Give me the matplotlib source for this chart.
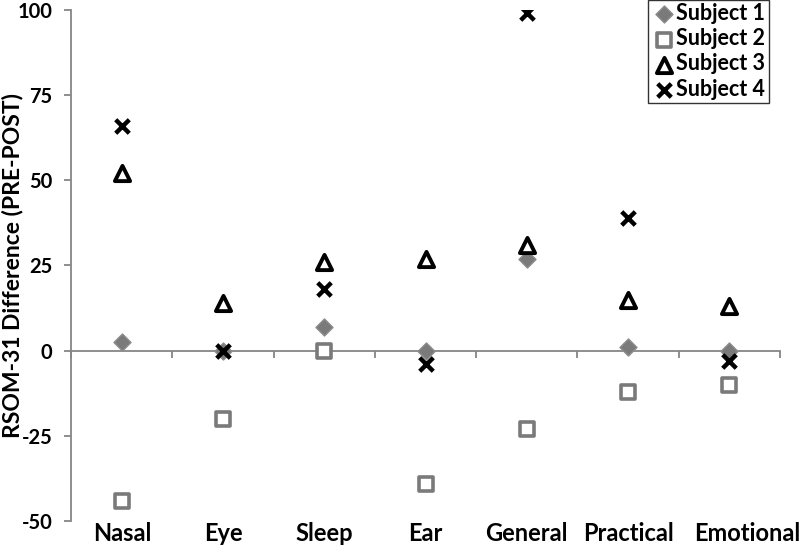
import numpy as np
import matplotlib
matplotlib.use("Agg")
import matplotlib.pyplot as plt
import matplotlib.transforms as mtransforms

plt.rcParams['font.family'] = ['Lato', 'DejaVu Sans']

# Data
categories = ['Nasal', 'Eye', 'Sleep', 'Ear', 'General', 'Practical', 'Emotional']
subject1 = [2.5, 0, 7, 0, 27, 1, 0]
subject2 = [-44, -20, 0, -39, -23, -12, -10]
subject3 = [52, 14, 26, 27, 31, 15, 13]
subject4 = [66, 0, 18, -4, 99, 39, -3]
y_ticks = [-50, -25, 0, 25, 50, 75, 100]

x = np.arange(1, len(categories) + 1)

fig = plt.figure(figsize=(8, 5.49), dpi=100)
ax = fig.add_axes([0.089, 0.051, 0.886, 0.931])

ax.scatter(x, subject1, marker='D', s=75, color='#7a7a7a', edgecolor='#8c8c8c',
           linewidth=1, label='Subject 1', zorder=3)
ax.scatter(x, subject2, marker='s', s=95, facecolor='white', edgecolor='#7a7a7a',
           linewidth=2.6, label='Subject 2', zorder=3)
ax.scatter(x, subject3, marker='^', s=120, facecolor='white', edgecolor='black',
           linewidth=2.8, label='Subject 3', zorder=4)
ax.scatter(x, subject4, marker='x', s=95, color='black', linewidth=3.2,
           label='Subject 4', zorder=5)

ax.set_xlim(0.5, len(categories) + 0.5)
ax.set_ylim(-50, 100)
ax.set_yticks(y_ticks)
ax.set_yticklabels([str(v) for v in y_ticks], fontsize=14.5, fontweight='bold')

axis_grey = '#868686'
for side in ['top', 'right']:
    ax.spines[side].set_visible(False)
ax.spines['left'].set_color(axis_grey)
ax.spines['left'].set_linewidth(1.3)
ax.spines['bottom'].set_position(('data', 0))
ax.spines['bottom'].set_color(axis_grey)
ax.spines['bottom'].set_linewidth(1.3)

ax.tick_params(axis='y', direction='out', length=5, width=1.3, color=axis_grey, pad=8.5)
ax.set_xticks(np.arange(0.5, len(categories) + 1, 1.0))
ax.tick_params(axis='x', direction='out', length=5, width=1.3, color=axis_grey,
               labelbottom=False)

# category labels along the bottom of the plot
sec = ax.secondary_xaxis('bottom')
sec.set_xticks(x)
sec.set_xticklabels(categories, fontsize=17, fontweight='bold')
sec.tick_params(length=0, pad=1)
sec.spines['bottom'].set_visible(False)
# last label sits a bit to the right in the original
last = sec.get_xticklabels()[-1]
last.set_transform(last.get_transform() + mtransforms.ScaledTranslation(0.18, 0, fig.dpi_scale_trans))

ax.set_ylabel('RSOM-31 Difference (PRE-POST)', fontsize=16.5, fontweight='bold')
ax.yaxis.set_label_coords(-0.067, 0.5)

leg = ax.legend(loc='upper right', bbox_to_anchor=(0.984, 1.02), frameon=True, fancybox=False,
                prop={'size': 15.5, 'weight': 'bold'}, handletextpad=0.05,
                borderpad=0.15, labelspacing=0.2, handlelength=1.1, borderaxespad=0)
leg.get_frame().set_edgecolor('black')
leg.get_frame().set_linewidth(1.0)

fig.savefig('out.png', dpi=100)
